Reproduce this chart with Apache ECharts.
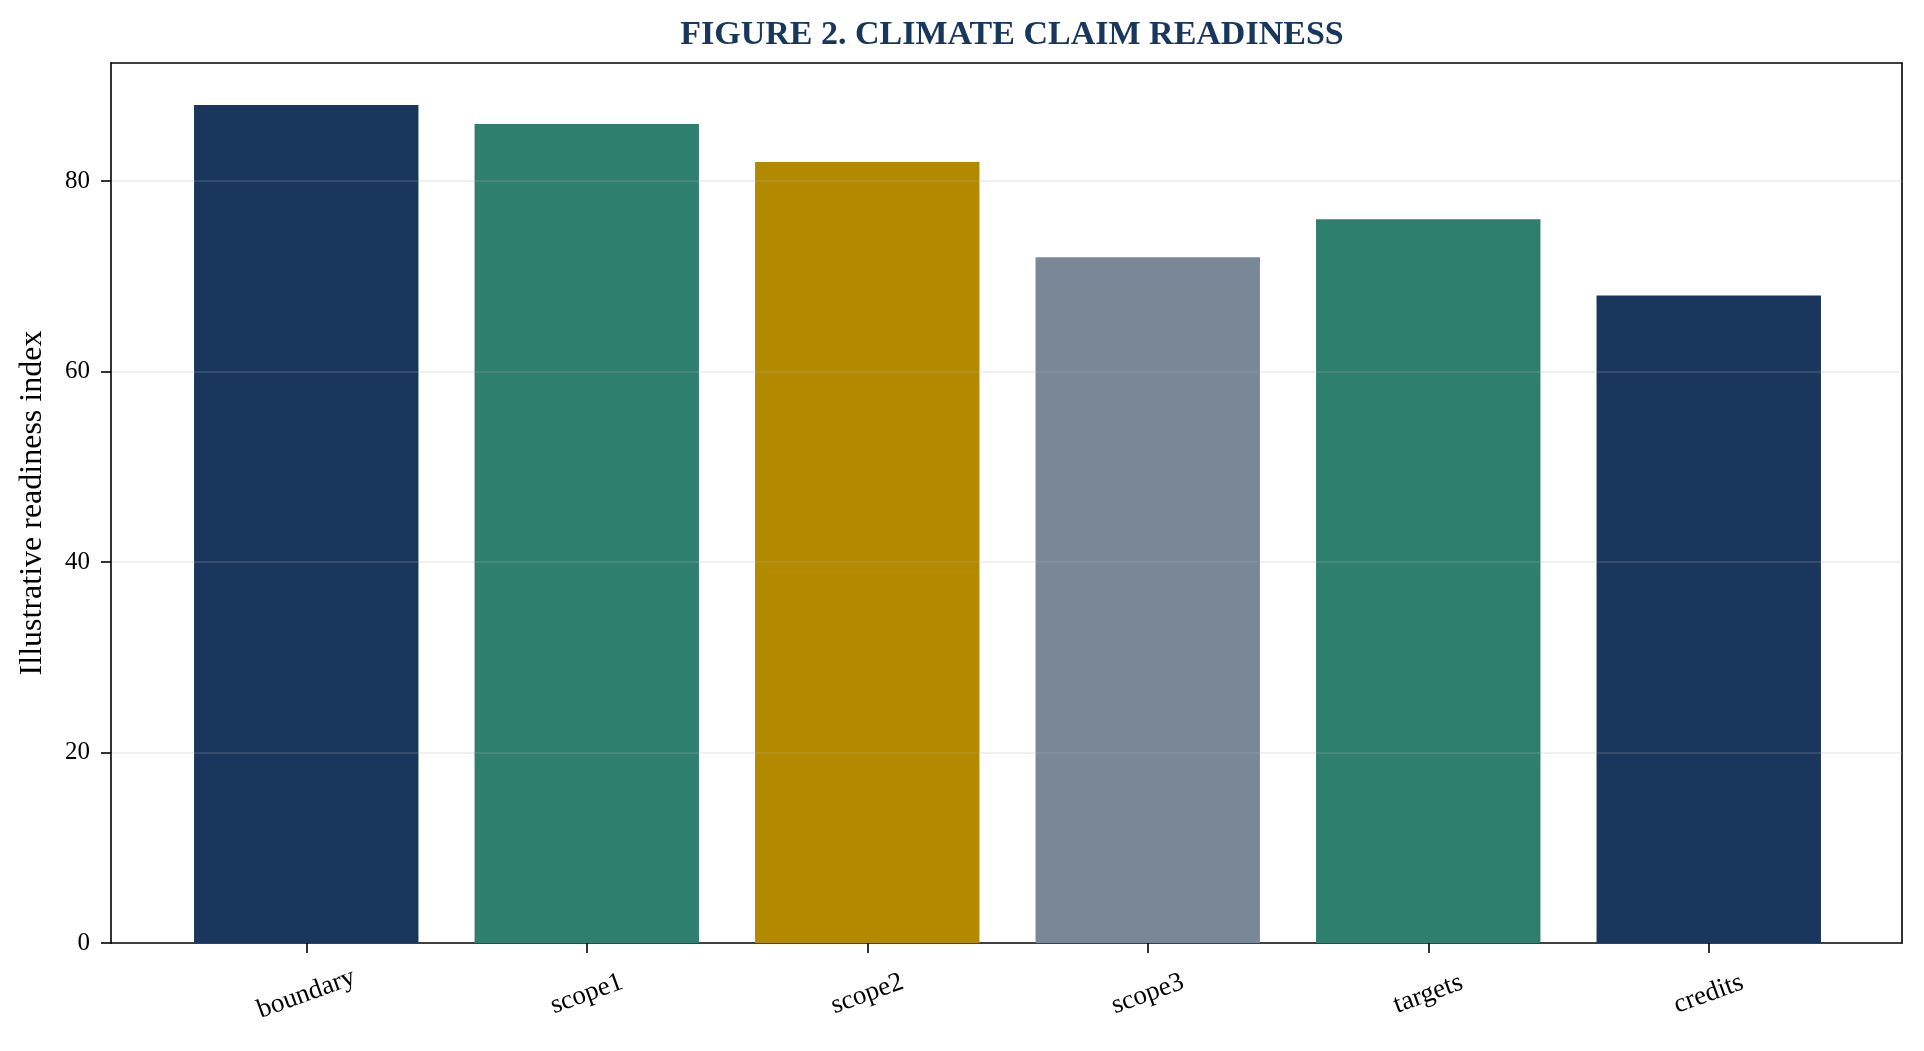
<!DOCTYPE html>
<html>
<head>
<meta charset="utf-8">
<title>Figure 2. Climate claim readiness</title>
<script src="https://cdn.jsdelivr.net/npm/echarts@6/dist/echarts.min.js"></script>
<style>
  html, body { margin: 0; padding: 0; background: #fff; }
  #container { width: 1924px; height: 1051px; }
</style>
</head>
<body>
<div id="container"></div>
<script>
var dom = document.getElementById("container");
var myChart = echarts.init(dom);

// data
var categories = ["boundary", "scope1", "scope2", "scope3", "targets", "credits"];
var readiness = [88, 86, 82, 72, 76, 68];
var barColors = ["#19365D", "#2F7F6F", "#B38900", "#7A8796", "#2F7F6F", "#19365D"];
var yTicks = [0, 20, 40, 60, 80];

var yMax = 92.4; // matplotlib style 5% headroom over 88
var font = "'Liberation Serif', 'Times New Roman', serif";

var frameLine = { show: true, onZero: false, lineStyle: { color: "#000", width: 1.6 } };

var option = {
  animation: false,
  backgroundColor: "#fff",
  textStyle: { fontFamily: font },
  title: {
    text: "FIGURE 2. CLIMATE CLAIM READINESS",
    left: 1007,
    top: 13,
    textAlign: "center",
    textStyle: { fontFamily: font, fontSize: 34, fontWeight: "bold", color: "#19365D" }
  },
  grid: [
    // outer frame (axes box)
    { left: 111, right: 22, top: 63, bottom: 108 },
    // bars: x range padded like matplotlib's auto margins
    { left: 166, right: 75, top: 63, bottom: 108 }
  ],
  xAxis: [
    {
      gridIndex: 0, type: "value", min: 0, max: 1, position: "bottom",
      axisLine: frameLine, axisTick: { show: false }, axisLabel: { show: false },
      splitLine: { show: false }
    },
    {
      gridIndex: 0, type: "value", min: 0, max: 1, position: "top",
      axisLine: frameLine, axisTick: { show: false }, axisLabel: { show: false },
      splitLine: { show: false }
    },
    {
      gridIndex: 1, type: "category", data: categories, position: "bottom",
      axisLine: { show: false },
      axisTick: { show: true, alignWithLabel: true, length: 10, lineStyle: { color: "#000", width: 1.6 } },
      axisLabel: {
        interval: 0, rotate: 20, align: "center", verticalAlign: "middle",
        margin: 51, fontSize: 27, color: "#000", fontFamily: font
      },
      splitLine: { show: false }
    }
  ],
  yAxis: [
    {
      gridIndex: 0, type: "value", min: 0, max: yMax, interval: 20, position: "left",
      z: 5,
      name: "Illustrative readiness index",
      nameLocation: "middle",
      nameGap: 62,
      nameTextStyle: { fontSize: 32, color: "#000", fontFamily: font },
      axisLine: frameLine,
      axisTick: { show: true, length: 10, customValues: yTicks, lineStyle: { color: "#000", width: 1.6 } },
      axisLabel: { customValues: yTicks, fontSize: 25, color: "#000", margin: 21, fontFamily: font },
      splitLine: {
        show: true, showMinLine: false,
        lineStyle: { color: "rgba(176,176,176,0.25)", width: 1.6 }
      }
    },
    {
      gridIndex: 0, type: "value", min: 0, max: 1, position: "right",
      axisLine: frameLine, axisTick: { show: false }, axisLabel: { show: false },
      splitLine: { show: false }
    },
    {
      gridIndex: 1, type: "value", min: 0, max: yMax, show: false
    }
  ],
  series: [
    {
      name: "Illustrative readiness index",
      type: "bar",
      xAxisIndex: 2,
      yAxisIndex: 2,
      barWidth: "80%",
      data: readiness.map(function (v, i) {
        return { value: v, itemStyle: { color: barColors[i] } };
      })
    }
  ]
};

if (option && typeof option === "object") {
  myChart.setOption(option, true);
}
</script>
</body>
</html>
